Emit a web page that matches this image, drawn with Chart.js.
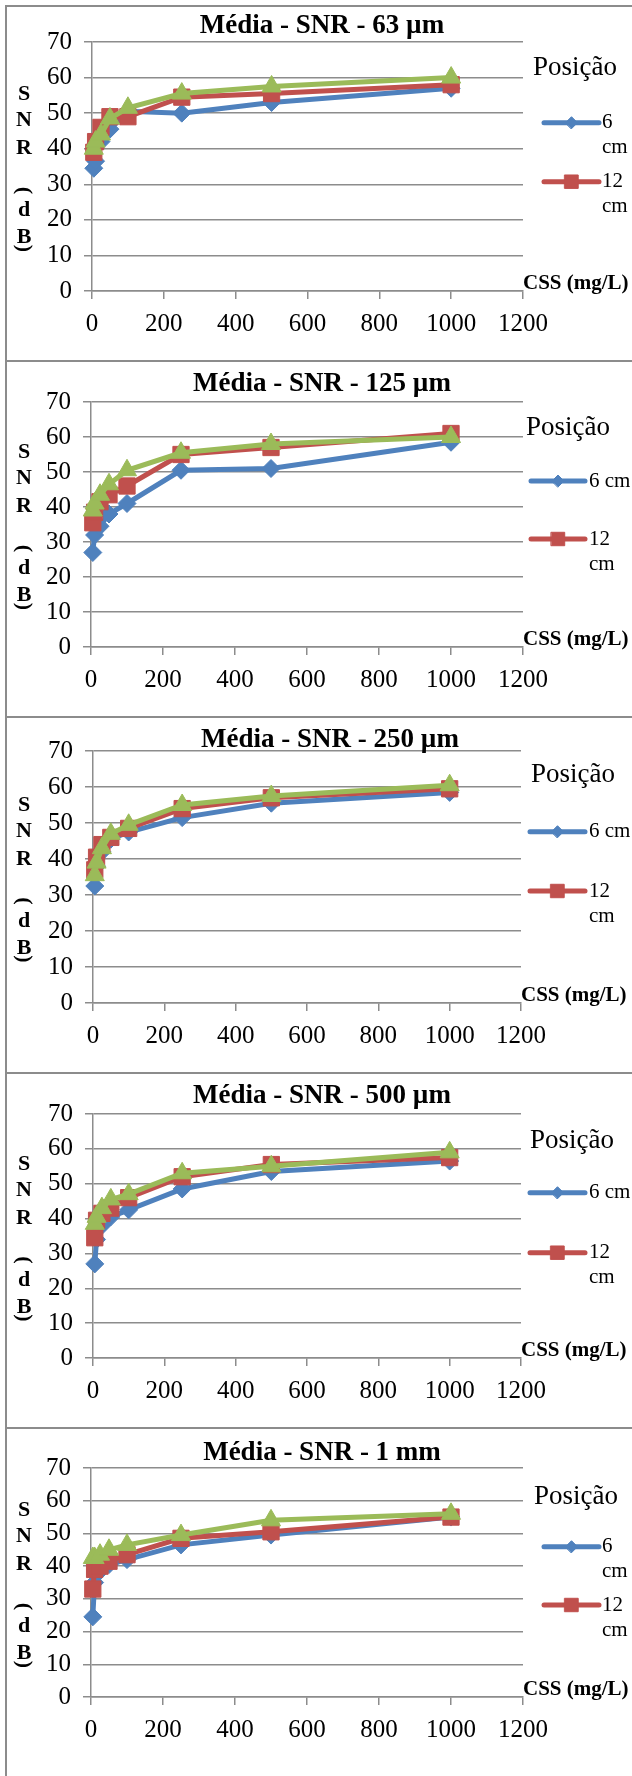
<!DOCTYPE html>
<html>
<head>
<meta charset="utf-8">
<script src="https://cdn.jsdelivr.net/npm/chart.js@4.4.1/dist/chart.umd.min.js"></script>
<style>
  html, body { margin: 0; padding: 0; background: #fff; }
  body { width: 632px; height: 1776px; position: relative; overflow: hidden; }
  .frame { position: absolute; left: 5px; width: 700px; border-top: 2px solid #8c8c8c; border-left: 2px solid #8c8c8c; box-sizing: border-box; }
  canvas { position: absolute; left: 0; }
</style>
</head>
<body>
<script>
// CSS concentrations (mg/L)
const cssMgL = [5, 10, 25, 50, 100, 250, 500, 1000];

// SNR (dB) per particle size, sensor position 6 cm / 12 cm / third series
const snr63um_6cm  = [34.5, 36.5, 42, 45.5, 50.5, 50, 53, 57];
const snr63um_12cm = [39, 42, 46, 49, 49, 54.5, 55.5, 58];
const snr63um_3    = [40, 42, 44, 48.5, 51.5, 55.5, 57.5, 60];

const snr125um_6cm  = [27, 32, 34.5, 38, 41, 50.5, 51, 58.5];
const snr125um_12cm = [35.5, 38.5, 41.5, 43.5, 46, 55, 57, 61];
const snr125um_3    = [39, 41, 43.5, 46.5, 50.5, 55.5, 58, 60];

const snr250um_6cm  = [32.5, 38, 42, 45.5, 47.5, 51.5, 55.5, 58.5];
const snr250um_12cm = [37, 40.5, 44, 46, 48.5, 54, 57, 59.5];
const snr250um_3    = [35.5, 39, 43, 47, 49.5, 55, 57.5, 60.5];

const snr500um_6cm  = [27, 34, 38, 40.5, 42.5, 48.5, 53.5, 56.5];
const snr500um_12cm = [34.5, 39.5, 41.5, 43, 46, 52, 55.5, 57.5];
const snr500um_3    = [38.5, 40.5, 43, 45.5, 47, 53, 55, 59];

const snr1mm_6cm  = [24.5, 35, 38.5, 40.5, 42, 46.5, 49.5, 55];
const snr1mm_12cm = [33, 39, 40, 41.5, 43.5, 48.5, 50.5, 55];
const snr1mm_3    = [42.5, 42.5, 43.5, 45, 46.5, 49.5, 54, 56];

const panelTitles = ['Média - SNR - 63 µm', 'Média - SNR - 125 µm', 'Média - SNR - 250 µm', 'Média - SNR - 500 µm', 'Média - SNR - 1 mm'];
const seriesByPanel = [
  [snr63um_6cm, snr63um_12cm, snr63um_3],
  [snr125um_6cm, snr125um_12cm, snr125um_3],
  [snr250um_6cm, snr250um_12cm, snr250um_3],
  [snr500um_6cm, snr500um_12cm, snr500um_3],
  [snr1mm_6cm, snr1mm_12cm, snr1mm_3]
];
const legendTitle = 'Posição';
const legend6 = [['6', 'cm'], ['6 cm'], ['6 cm'], ['6 cm'], ['6', 'cm']];
const legend12 = [['12', 'cm'], ['12', 'cm'], ['12', 'cm'], ['12', 'cm'], ['12', 'cm']];
const xAxisTitle = 'CSS (mg/L)';
const yAxisGlyphs = ['S', 'N', 'R', '(', 'd', 'B', ')'];

// frame geometry (px, relative to each frame's top edge)
const frames = [
  { top: 6,    h: 355, area: { top: 36, bottom: 285, left: 92, right: 523 }, titleX: 322, titleY: 20, posX: 533, posY: 62, lx1: 544, lx2: 599, ltx: 602, ly6: 116.7, ly12: 175.7 },
  { top: 361,  h: 356, area: { top: 41, bottom: 286, left: 91, right: 523 }, titleX: 322, titleY: 23, posX: 526, posY: 67, lx1: 531, lx2: 585, ltx: 589, ly6: 120, ly12: 178 },
  { top: 717,  h: 356, area: { top: 34, bottom: 286, left: 93, right: 521 }, titleX: 330, titleY: 23, posX: 531, posY: 58, lx1: 530, lx2: 585, ltx: 589, ly6: 114.7, ly12: 174 },
  { top: 1073, h: 355, area: { top: 41, bottom: 285, left: 93, right: 521 }, titleX: 322, titleY: 23, posX: 530, posY: 68, lx1: 530, lx2: 585, ltx: 589, ly6: 119.7, ly12: 179.7 },
  { top: 1428, h: 348, area: { top: 40, bottom: 269, left: 91, right: 523 }, titleX: 322, titleY: 25, posX: 534, posY: 69, lx1: 544, lx2: 599, ltx: 602, ly6: 118.7, ly12: 177 }
];

const SERIF = '"Liberation Serif", "Times New Roman", serif';
const BLUE = '#4F81BD', RED = '#C0504D', GREEN = '#9BBB59', GRID = '#8c8c8c';
const X_AXIS_H = 45;

// titles, stacked y-axis label, x-axis label and the legend
const panelDecor = {
  id: 'panelDecor',
  afterDraw(chart, args, o) {
    const ctx = chart.ctx, ca = chart.chartArea, f = o.frame;
    ctx.save();
    ctx.fillStyle = '#000';
    ctx.textBaseline = 'middle';

    ctx.font = 'bold 27px ' + SERIF;
    ctx.textAlign = 'center';
    ctx.fillText(o.title, f.titleX, f.titleY);

    ctx.font = 'bold 22px ' + SERIF;
    const y0 = (ca.top + ca.bottom) / 2 - 72;
    const offs = [0, 26, 54, 96, 116, 143, 154];
    yAxisGlyphs.forEach((g, i) => {
      if (g === '(' || g === ')') {
        ctx.save();
        ctx.translate(24, y0 + offs[i]);
        ctx.rotate(Math.PI / 2);
        ctx.fillText(g, 0, 0);
        ctx.restore();
      } else {
        ctx.fillText(g, 24, y0 + offs[i]);
      }
    });

    ctx.textAlign = 'left';
    ctx.font = 'bold 21px ' + SERIF;
    ctx.fillText(xAxisTitle, ca.right, ca.bottom - 7);

    ctx.font = '27px ' + SERIF;
    ctx.fillText(legendTitle, f.posX, f.posY);

    ctx.font = '21px ' + SERIF;
    const entries = [
      { ds: chart.data.datasets[0], y: f.ly6, text: o.l6, r: 6 },
      { ds: chart.data.datasets[1], y: f.ly12, text: o.l12, r: 9.5 }
    ];
    for (const e of entries) {
      ctx.strokeStyle = e.ds.borderColor;
      ctx.lineWidth = 5;
      ctx.lineCap = 'round';
      ctx.beginPath();
      ctx.moveTo(f.lx1, e.y);
      ctx.lineTo(f.lx2, e.y);
      ctx.stroke();
      ctx.fillStyle = e.ds.borderColor;
      ctx.lineWidth = 1;
      Chart.helpers.drawPoint(ctx, { pointStyle: e.ds.pointStyle, radius: e.r, rotation: 0, borderWidth: 1 }, (f.lx1 + f.lx2) / 2, e.y);
      ctx.fillStyle = '#000';
      e.text.forEach((t, k) => ctx.fillText(t, f.ltx, e.y + k * 25));
    }
    ctx.restore();
  }
};

frames.forEach((f, i) => {
  const box = document.createElement('div');
  box.className = 'frame';
  box.style.top = (f.top - 1) + 'px';
  box.style.height = (i === frames.length - 1 ? 1776 - f.top + 1 : f.h + 2) + 'px';
  document.body.appendChild(box);

  const cv = document.createElement('canvas');
  cv.width = 632; cv.height = f.h;
  cv.style.top = f.top + 'px';
  cv.style.width = '632px'; cv.style.height = f.h + 'px';
  document.body.appendChild(cv);

  const [s6, s12, s3] = seriesByPanel[i];
  const mk = (vals) => cssMgL.map((x, k) => ({ x, y: vals[k] }));

  new Chart(cv, {
    type: 'line',
    data: {
      datasets: [
        { label: '6 cm', data: mk(s6), borderColor: BLUE, backgroundColor: BLUE, pointStyle: 'rectRot', pointRadius: 9, order: 2, clip: false },
        { label: '12 cm', data: mk(s12), borderColor: RED, backgroundColor: RED, pointStyle: 'rect', pointRadius: 11.5, order: 1, clip: false },
        { label: 'série 3', data: mk(s3), borderColor: GREEN, backgroundColor: GREEN, pointStyle: 'triangle', pointRadius: 11, order: 0, clip: false }
      ]
    },
    options: {
      responsive: false,
      animation: false,
      devicePixelRatio: 1,
      layout: { padding: { left: 0, top: f.area.top, right: 632 - f.area.right, bottom: f.h - f.area.bottom - X_AXIS_H } },
      elements: {
        line: { borderWidth: 5, tension: 0 },
        point: { borderWidth: 1, hoverRadius: 9 }
      },
      scales: {
        x: {
          type: 'linear', min: 0, max: 1200,
          ticks: { stepSize: 200, autoSkip: false, color: '#000', font: { family: SERIF, size: 25 }, padding: 10, maxRotation: 0, callback: (v) => String(v) },
          grid: { drawOnChartArea: false, drawTicks: true, tickLength: 8, color: GRID, lineWidth: 1.5 },
          border: { display: true, color: GRID, width: 1.5 },
          afterFit(s) { s.height = X_AXIS_H; }
        },
        y: {
          min: 0, max: 70,
          ticks: { stepSize: 10, autoSkip: false, color: '#000', font: { family: SERIF, size: 25 }, padding: 12, callback: (v) => String(v) },
          grid: { drawTicks: true, tickLength: 8, color: GRID, lineWidth: 1.5 },
          border: { display: true, color: GRID, width: 1.5 },
          afterFit(s) { s.width = f.area.left; }
        }
      },
      plugins: {
        legend: { display: false },
        tooltip: { enabled: false },
        panelDecor: { frame: f, title: panelTitles[i], l6: legend6[i], l12: legend12[i] }
      }
    },
    plugins: [panelDecor]
  });
});
</script>
</body>
</html>
